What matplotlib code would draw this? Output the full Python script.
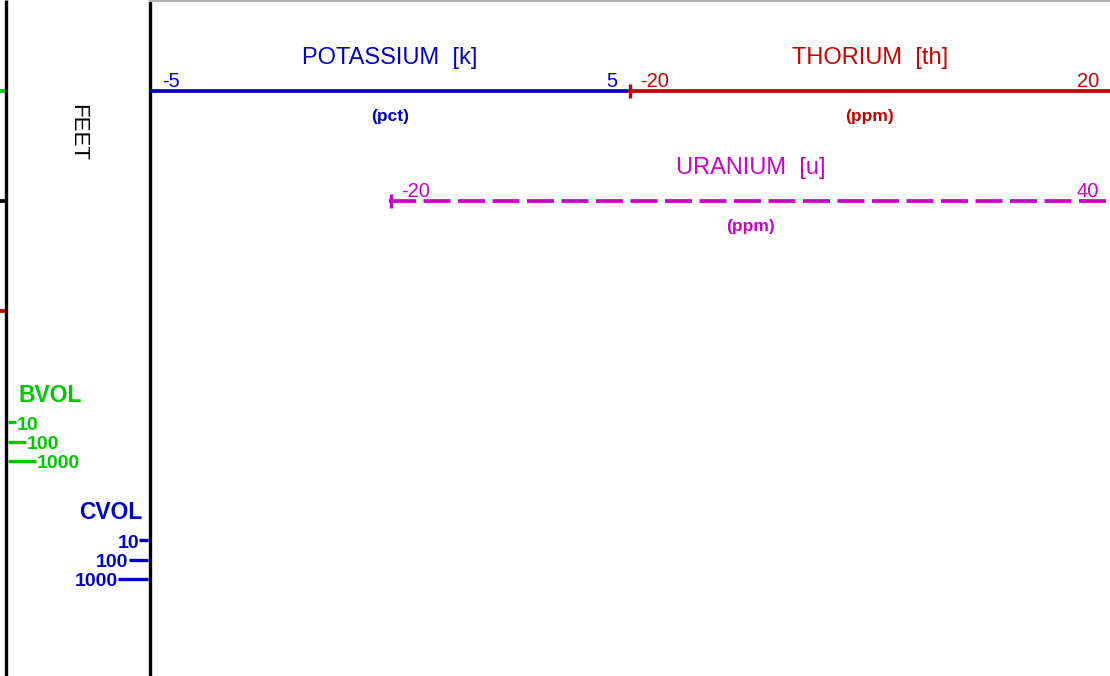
import matplotlib
matplotlib.use("Agg")
import matplotlib.pyplot as plt
#----------------------------------------------------

plt.rcParams['font.family'] = ['Liberation Sans', 'DejaVu Sans']

#Curve header data
curve_names = ["POTASSIUM  [k]", "THORIUM  [th]", "URANIUM  [u]"]
curve_units = ["(pct)", "(ppm)", "(ppm)"]
scale_left = ["-5", "-20", "-20"]
scale_right = ["5", "20", "40"]
curve_colors = ["#0000CC", "#CC0000", "#CC00CC"]
curve_styles = ["solid", "solid", "dashed"]

#Volume legends
vol_labels = ["10", "100", "1000"]
bvol_color = "#00C800"
cvol_color = "#0000CC"

#Layout (pixels)
W, H = 1110, 676
track_x = [(150, 628), (628, 1110), (389, 1110)]
track_y = [91, 91, 201]
end_tick = [False, True, True]
lw = 2.4    # border lines
clw = 2.7   # curve lines


fig = plt.figure(figsize=(W / 100, H / 100), dpi=100)
ax = fig.add_axes([0, 0, 1, 1])
ax.set_xlim(0, W)
ax.set_ylim(H, 0)
ax.axis("off")


#Track borders
ax.plot([6, 6], [0, H], color="black", lw=lw, solid_capstyle="butt")
ax.plot([149.5, 149.5], [0, H], color="black", lw=lw, solid_capstyle="butt")
ax.plot([150, W], [0.5, 0.5], color="#b4b4b4", lw=1.5)
#stubs from the previous track
for yy, cc in zip([91, 201, 311], [bvol_color, "black", "#CC0000"]):
    ax.plot([0, 5], [yy, yy], color=cc, lw=clw, solid_capstyle="butt")

ax.text(78, 133, "FEET", rotation=-90, ha="center", va="center", fontsize=16, color="black")


#Curve headers
for name, unit, lo, hi, col, ls, (x0, x1), y, tk in zip(curve_names, curve_units, scale_left, scale_right,
                                                        curve_colors, curve_styles, track_x, track_y, end_tick):
    line, = ax.plot([x0, x1], [y, y], color=col, lw=clw, solid_capstyle="butt", dash_capstyle="butt")
    if ls == "dashed":
        line.set_dashes((7.2, 2.0))
    if tk:
        ax.plot([x0 + 1.5, x0 + 1.5], [y - 7, y + 7], color=col, lw=lw, solid_capstyle="butt")
    xc = (x0 + x1) / 2
    ax.text(xc + 1, y - 27, name, ha="center", va="baseline", fontsize=17, color=col)
    ax.text(x0 + 12, y - 4, lo, ha="left", va="baseline", fontsize=14.5, color=col)
    ax.text(x1 - 11, y - 4, hi, ha="right", va="baseline", fontsize=14.5, color=col)
    ax.text(xc + 1, y + 26, unit, ha="center", va="center", fontsize=12.5, fontweight="bold", color=col)


#BVOL legend (left side)
ax.text(18, 402, "BVOL", ha="left", va="baseline", fontsize=16.5, fontweight="bold", color=bvol_color)
for i, lab in enumerate(vol_labels):
    yy = 422 + i * 19.5
    xe = 16 + i * 10
    ax.plot([8, xe], [yy, yy], color=bvol_color, lw=lw, solid_capstyle="butt")
    ax.text(xe + 1, yy + 7.5, lab, ha="left", va="baseline", fontsize=14, fontweight="bold", color=bvol_color)

#CVOL legend (right side)
ax.text(142, 519, "CVOL", ha="right", va="baseline", fontsize=16.5, fontweight="bold", color=cvol_color)
for i, lab in enumerate(vol_labels):
    yy = 540 + i * 19.5
    xs = 139 - i * 10.5
    ax.plot([xs, 148], [yy, yy], color=cvol_color, lw=lw, solid_capstyle="butt")
    ax.text(xs, yy + 7.5, lab, ha="right", va="baseline", fontsize=14, fontweight="bold", color=cvol_color)


fig.savefig("out.png", dpi=100)
